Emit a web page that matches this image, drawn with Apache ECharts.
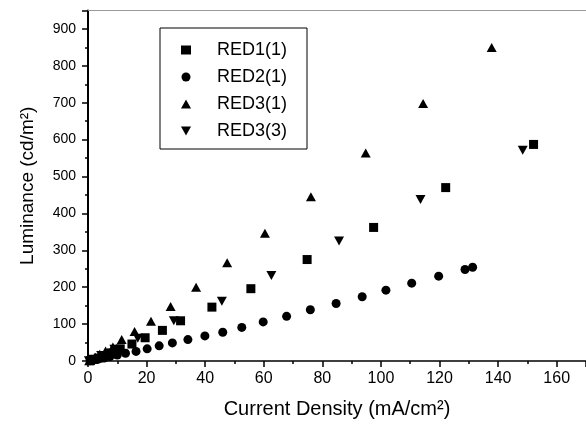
<!DOCTYPE html>
<html>
<head>
<meta charset="utf-8">
<script src="https://cdn.jsdelivr.net/npm/echarts@6/dist/echarts.min.js"></script>
<style>
  html, body { margin: 0; padding: 0; background: #fff; }
  #chart { width: 586px; height: 424px; }
</style>
</head>
<body>
<div id="chart"></div>
<script>
// 값 데이터
var seriesNames = ['RED1(1)', 'RED2(1)', 'RED3(1)', 'RED3(3)'];

var red1X = [0.8, 2, 3.5, 5.5, 8, 11, 15, 19.5, 25.4, 31.6, 42.3, 55.6, 74.8, 97.5, 122.1, 152.1];
var red1Y = [1, 4, 8, 14, 22, 33, 46, 63, 83, 109, 146, 196, 275, 362, 470, 587];

var red2X = [0.8, 2, 3.5, 5.5, 7.5, 10, 12.8, 16.4, 20.2, 24.3, 28.8, 34.1, 39.9, 46, 52.5, 59.8, 67.8, 75.9, 84.7, 93.6, 101.7, 110.5, 119.7, 128.7, 131.3];
var red2Y = [1, 3, 5, 8, 12, 16, 21, 26, 33, 41, 49, 58, 68, 78, 91, 106, 121, 139, 156, 174, 192, 211, 230, 248, 254];

var red31X = [0.4, 1.2, 2.5, 4, 6, 8.5, 11.5, 15.9, 21.5, 28.2, 36.9, 47.5, 60.4, 76.1, 94.8, 114.4, 137.8];
var red31Y = [1, 5, 10, 18, 27, 38, 58, 80, 108, 148, 200, 266, 346, 445, 564, 698, 850];

var red33X = [0.3, 1.5, 4.5, 9, 17, 29.3, 45.7, 62.6, 85.7, 113.5, 148.4];
var red33Y = [1, 5, 15, 32, 62, 109, 162, 232, 325, 438, 571];

function pairs(xs, ys) {
	var out = [];
	for (var i = 0; i < xs.length; i++) {
		out.push([xs[i], ys[i]]);
	}
	return out;
}

var chart = echarts.init(document.getElementById('chart'));
var font = '"Liberation Sans", Arial, sans-serif';

// 역삼각형 심볼
var downTriangle = 'path://M0,0 L10,0 L5,9 Z';

var option = {
	animation: false,
	backgroundColor: '#fff',
	textStyle: { fontFamily: font, color: '#000' },
	grid: {
		left: 88,
		right: -5,
		top: 10.5,
		bottom: 63
	},
	legend: {
		orient: 'vertical',
		left: 160,
		top: 28,
		padding: [13, 20, 9, 21],
		itemGap: 9,
		itemWidth: 10,
		itemHeight: 9,
		borderColor: '#000',
		borderWidth: 1,
		backgroundColor: '#fff',
		textStyle: { fontFamily: font, fontSize: 18, color: '#000', padding: [0, 0, 0, 21] },
		data: seriesNames
	},
	xAxis: [
		{
			type: 'value',
			min: 0,
			max: 170,
			interval: 20,
			name: 'Current Density (mA/cm²)',
			nameLocation: 'middle',
			nameGap: 38,
			nameTextStyle: { fontFamily: font, fontSize: 20, color: '#000' },
			axisLine: { lineStyle: { color: '#000', width: 1.5 } },
			axisTick: { length: 6, lineStyle: { color: '#000', width: 1.5 } },
			minorTick: { show: true, splitNumber: 2, length: 3, lineStyle: { color: '#000', width: 1.5 } },
			axisLabel: { fontFamily: font, fontSize: 16, color: '#000', margin: 10, showMaxLabel: false },
			splitLine: { show: false }
		},
		{
			type: 'value',
			position: 'top',
			min: 0,
			max: 170,
			axisLine: { show: true, lineStyle: { color: '#999', width: 1 } },
			axisTick: { show: false },
			axisLabel: { show: false },
			splitLine: { show: false }
		}
	],
	yAxis: {
		type: 'value',
		min: 0,
		max: 950,
		interval: 100,
		name: 'Luminance (cd/m²)',
		nameLocation: 'middle',
		nameGap: 51,
		nameTextStyle: { fontFamily: font, fontSize: 19, color: '#000' },
		axisLine: { show: true, lineStyle: { color: '#000', width: 2 } },
		axisTick: { length: 6, lineStyle: { color: '#000', width: 1.5 } },
		minorTick: { show: true, splitNumber: 2, length: 3, lineStyle: { color: '#000', width: 1.5 } },
		axisLabel: { fontFamily: font, fontSize: 14, color: '#000', margin: 12, showMaxLabel: false },
		splitLine: { show: false }
	},
	series: [
		{
			name: seriesNames[0],
			type: 'scatter',
			symbol: 'rect',
			symbolSize: 9,
			itemStyle: { color: '#000', opacity: 1 },
			data: pairs(red1X, red1Y)
		},
		{
			name: seriesNames[1],
			type: 'scatter',
			symbol: 'circle',
			symbolSize: 9,
			itemStyle: { color: '#000', opacity: 1 },
			data: pairs(red2X, red2Y)
		},
		{
			name: seriesNames[2],
			type: 'scatter',
			symbol: 'triangle',
			symbolSize: [10, 9],
			itemStyle: { color: '#000', opacity: 1 },
			data: pairs(red31X, red31Y)
		},
		{
			name: seriesNames[3],
			type: 'scatter',
			symbol: downTriangle,
			symbolSize: [10, 9],
			itemStyle: { color: '#000', opacity: 1 },
			data: pairs(red33X, red33Y)
		}
	]
};

chart.setOption(option);
</script>
</body>
</html>
